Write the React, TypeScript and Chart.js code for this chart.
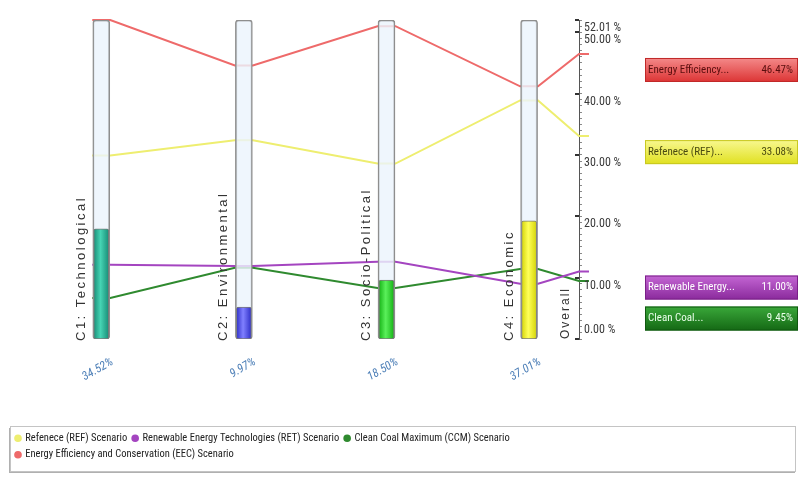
import React, { useEffect, useRef } from 'react';
import { Chart, registerables } from 'chart.js';
Chart.register(...registerables);

// ---------------- data ----------------
const CRITERIA = ['C1: Technological', 'C2: Environmental', 'C3: Socio-Political', 'C4: Economic'];
const CRITERIA_POS = [1, 2, 3, 4];
const WEIGHTS = [34.52, 9.97, 18.5, 37.01];
const WEIGHT_LABELS = ['34.52%', '9.97%', '18.50%', '37.01%'];
const OVERALL_LABEL = 'Overall';
const SCENARIOS = [
  'Refenece (REF) Scenario',
  'Renewable Energy Technologies (RET) Scenario',
  'Clean Coal Maximum (CCM) Scenario',
  'Energy Efficiency and Conservation (EEC) Scenario',
];
const SHORT_NAMES = ['Refenece (REF)...', 'Renewable Energy...', 'Clean Coal...', 'Energy Efficiency...'];
const REF_VALUES = [29.9, 32.4, 28.6, 38.9];
const RET_VALUES = [12.1, 11.9, 12.6, 9.0];
const CCM_VALUES = [6.7, 11.6, 8.3, 11.4];
const EEC_VALUES = [52.01, 44.6, 51.0, 41.2];
const SCENARIO_VALUES = [REF_VALUES, RET_VALUES, CCM_VALUES, EEC_VALUES];
const OVERALL = [33.08, 11.0, 9.45, 46.47];
const OVERALL_LABELS = ['33.08%', '11.00%', '9.45%', '46.47%'];
const Y_TICKS = [0, 10, 20, 30, 40, 50, 52.01];
const Y_MAX = 52.01;
const WEIGHT_MAX = 100;

// ---------------- style ----------------
const NARROW = "'Roboto Condensed', 'DejaVu Sans Condensed', sans-serif";
const SANS = "'Liberation Sans', Arial, sans-serif";
const LINE_COLORS = ['#eeee70', '#a445c0', '#2f8a2f', '#ee6a6a'];
const BOX_STYLES = [
  { top: '#f8f890', bottom: '#e0e020', border: '#c8c820', text: '#4a4a10' },
  { top: '#c466d4', bottom: '#8a2a9c', border: '#7a2088', text: '#ffffff' },
  { top: '#3aa83a', bottom: '#146814', border: '#105810', text: '#eaffea' },
  { top: '#f48a8a', bottom: '#dc3434', border: '#c02828', text: '#5a0e0e' },
];
const FILL_STYLES = [
  { dark: '#168a74', light: '#46d4b4' },
  { dark: '#2a2ac4', light: '#8080ff' },
  { dark: '#12b012', light: '#5af05a' },
  { dark: '#d2d200', light: '#ffff5a' },
];
const HALF_COL = 0.063; // half column width in x units
const X_MIN = 0.36;
const OVERALL_X = 4.35;
const OVERALL_TAIL = 0.07;

const decorPlugin = {
  id: 'decor',
  beforeDraw(chart: any) {
    const { ctx } = chart;
    const lg = chart.legend;
    if (!lg) return;
    ctx.save();
    const top = lg.top - 1;
    const h = 45;
    ctx.fillStyle = '#b0b0b0';
    ctx.fillRect(9, top + 2, 786, h);
    ctx.fillStyle = '#ffffff';
    ctx.fillRect(10, top, 785, h);
    ctx.strokeStyle = '#c4c4c4';
    ctx.lineWidth = 1;
    ctx.strokeRect(10.5, top + 0.5, 785, h);
    ctx.restore();
  },
  afterDraw(chart: any) {
    const { ctx, chartArea } = chart;
    const xs = chart.scales.x;
    const ys = chart.scales.y;
    ctx.save();
    // criterion names, vertical
    ctx.fillStyle = '#333';
    ctx.textAlign = 'left';
    ctx.textBaseline = 'middle';
    ctx.font = `13px ${SANS}`;
    (ctx as any).letterSpacing = '2.5px';
    CRITERIA.forEach((name, i) => {
      const x = xs.getPixelForValue(CRITERIA_POS[i]) - 20;
      ctx.save();
      ctx.translate(x, chartArea.bottom + 2);
      ctx.rotate(-Math.PI / 2);
      ctx.fillText(name, 0, 0);
      ctx.restore();
    });
    ctx.font = `12px ${SANS}`;
    (ctx as any).letterSpacing = '2px';
    ctx.save();
    ctx.translate(chartArea.right - 13, chartArea.bottom);
    ctx.rotate(-Math.PI / 2);
    ctx.fillText(OVERALL_LABEL, 0, 0);
    ctx.restore();
    (ctx as any).letterSpacing = '0px';

    // major ticks on the overall axis
    ctx.strokeStyle = '#333';
    ctx.lineWidth = 2;
    Y_TICKS.forEach((v) => {
      const y = Math.round(ys.getPixelForValue(v));
      ctx.beginPath();
      ctx.moveTo(chartArea.right - 4, y);
      ctx.lineTo(chartArea.right, y);
      ctx.stroke();
    });
    // tick labels
    ctx.fillStyle = '#3a3a3a';
    ctx.font = `12px ${NARROW}`;
    ctx.textAlign = 'left';
    Y_TICKS.forEach((v) => {
      const y = ys.getPixelForValue(v) + (v === 0 ? -9 : 8);
      ctx.fillText(v.toFixed(2) + ' %', chartArea.right + 5, y);
    });

    // overall result boxes
    const order = OVERALL.map((v, i) => i).sort((a, b) => OVERALL[b] - OVERALL[a]);
    let prevBottom = -Infinity;
    const left = chartArea.right + 66;
    const right = chart.width;
    order.forEach((i) => {
      const h = 24;
      const top = Math.max(ys.getPixelForValue(OVERALL[i]) + 4, prevBottom + 7);
      prevBottom = top + h;
      const st = BOX_STYLES[i];
      const g = ctx.createLinearGradient(0, top, 0, top + h);
      g.addColorStop(0, st.top);
      g.addColorStop(1, st.bottom);
      ctx.fillStyle = g;
      ctx.fillRect(left, top, right - left, h);
      ctx.strokeStyle = st.border;
      ctx.lineWidth = 1;
      ctx.strokeRect(left + 0.5, top + 0.5, right - left - 1, h - 1);
      ctx.fillStyle = st.text;
      ctx.font = `11px ${NARROW}`;
      ctx.textBaseline = 'middle';
      ctx.textAlign = 'left';
      ctx.fillText(SHORT_NAMES[i], left + 3, top + h / 2);
      ctx.textAlign = 'right';
      ctx.fillText(OVERALL_LABELS[i], right - 5, top + h / 2);
    });
    ctx.restore();
  },
};

export default function App() {
  const ref = useRef<HTMLCanvasElement | null>(null);
  useEffect(() => {
    if (!ref.current) return;
    const lineSets = SCENARIOS.map((name, s) => {
      const pts: { x: number; y: number }[] = [];
      SCENARIO_VALUES[s].forEach((v, i) => {
        pts.push({ x: CRITERIA_POS[i] - HALF_COL, y: v });
        pts.push({ x: CRITERIA_POS[i] + HALF_COL, y: v });
      });
      pts.push({ x: OVERALL_X, y: OVERALL[s] });
      pts.push({ x: OVERALL_X + OVERALL_TAIL, y: OVERALL[s] });
      return {
        type: 'line' as const,
        label: name,
        data: pts,
        borderColor: LINE_COLORS[s],
        backgroundColor: LINE_COLORS[s],
        borderWidth: 2,
        pointRadius: 0,
        pointStyle: 'circle',
        tension: 0,
        clip: false as any,
        yAxisID: 'y',
        order: 1,
      };
    });
    const columns = {
      type: 'bar' as const,
      label: 'column',
      data: CRITERIA_POS.map((x) => ({ x, y: WEIGHT_MAX })),
      backgroundColor: 'rgba(236,244,252,0.82)',
      borderColor: '#8e8e8e',
      borderWidth: 1.5,
      borderSkipped: false as any,
      borderRadius: 3,
      barThickness: 17,
      grouped: false,
      yAxisID: 'y2',
      order: 0,
    };
    const fills = {
      type: 'bar' as const,
      label: 'weight',
      data: CRITERIA_POS.map((x, i) => ({ x, y: WEIGHTS[i] })),
      backgroundColor: (c: any) => {
        const st = FILL_STYLES[c.dataIndex] || FILL_STYLES[0];
        const chart = c.chart;
        if (!chart.chartArea || !chart.scales.x) return st.dark;
        const x = chart.scales.x.getPixelForValue(CRITERIA_POS[c.dataIndex]);
        const g = chart.ctx.createLinearGradient(x - 8, 0, x + 8, 0);
        g.addColorStop(0, st.dark);
        g.addColorStop(0.45, st.light);
        g.addColorStop(1, st.dark);
        return g;
      },
      borderColor: '#7a7a7a',
      borderWidth: 1,
      borderSkipped: false as any,
      borderRadius: 2,
      barThickness: 15,
      grouped: false,
      yAxisID: 'y2',
      order: -1,
    };
    const chart = new Chart(ref.current, {
      type: 'line',
      data: { datasets: [...lineSets, columns, fills] as any },
      options: {
        responsive: true,
        maintainAspectRatio: false,
        animation: false,
        events: [],
        layout: { padding: { top: 20, left: 10, right: 159, bottom: 7 } },
        scales: {
          x: {
            type: 'linear',
            offset: false,
            bounds: 'data',
            afterDataLimits: (s: any) => {
              s.min = X_MIN;
              s.max = OVERALL_X;
            },
            grid: { display: false, drawTicks: false },
            border: { display: false },
            afterBuildTicks: (s: any) => {
              s.ticks = CRITERIA_POS.map((v) => ({ value: v }));
            },
            afterFit: (s: any) => {
              s.height = 88;
            },
            ticks: {
              autoSkip: false,
              minRotation: 30,
              maxRotation: 30,
              padding: 16,
              labelOffset: 11,
              color: '#4f80b8',
              font: { family: NARROW, size: 12, style: 'italic' },
              callback: (_v: any, i: number) => WEIGHT_LABELS[i],
            },
          },
          y: {
            type: 'linear',
            position: 'right',
            min: 0,
            max: Y_MAX,
            grid: {
              drawOnChartArea: false,
              drawTicks: true,
              tickLength: 3,
              tickWidth: 1,
              tickColor: '#8a8a8a',
            },
            border: { display: true, color: '#555', width: 1 },
            ticks: { display: false, stepSize: 1 },
            afterFit: (s: any) => {
              s.width = 60;
            },
          },
          y2: { type: 'linear', display: false, min: 0, max: WEIGHT_MAX },
        },
        plugins: {
          tooltip: { enabled: false },
          legend: {
            position: 'bottom',
            align: 'start',
            labels: {
              usePointStyle: true,
              pointStyle: 'circle',
              boxWidth: 4,
              boxHeight: 4,
              padding: 6,
              color: '#222',
              font: { family: NARROW, size: 10.5 },
              filter: (item: any) => item.datasetIndex < SCENARIOS.length,
            },
          },
        },
      },
      plugins: [decorPlugin],
    });
    return () => chart.destroy();
  }, []);
  return (
    <div style={{ position: 'fixed', left: 0, top: 0, width: 798, height: 477, background: '#fff' }}>
      <canvas ref={ref} />
    </div>
  );
}
